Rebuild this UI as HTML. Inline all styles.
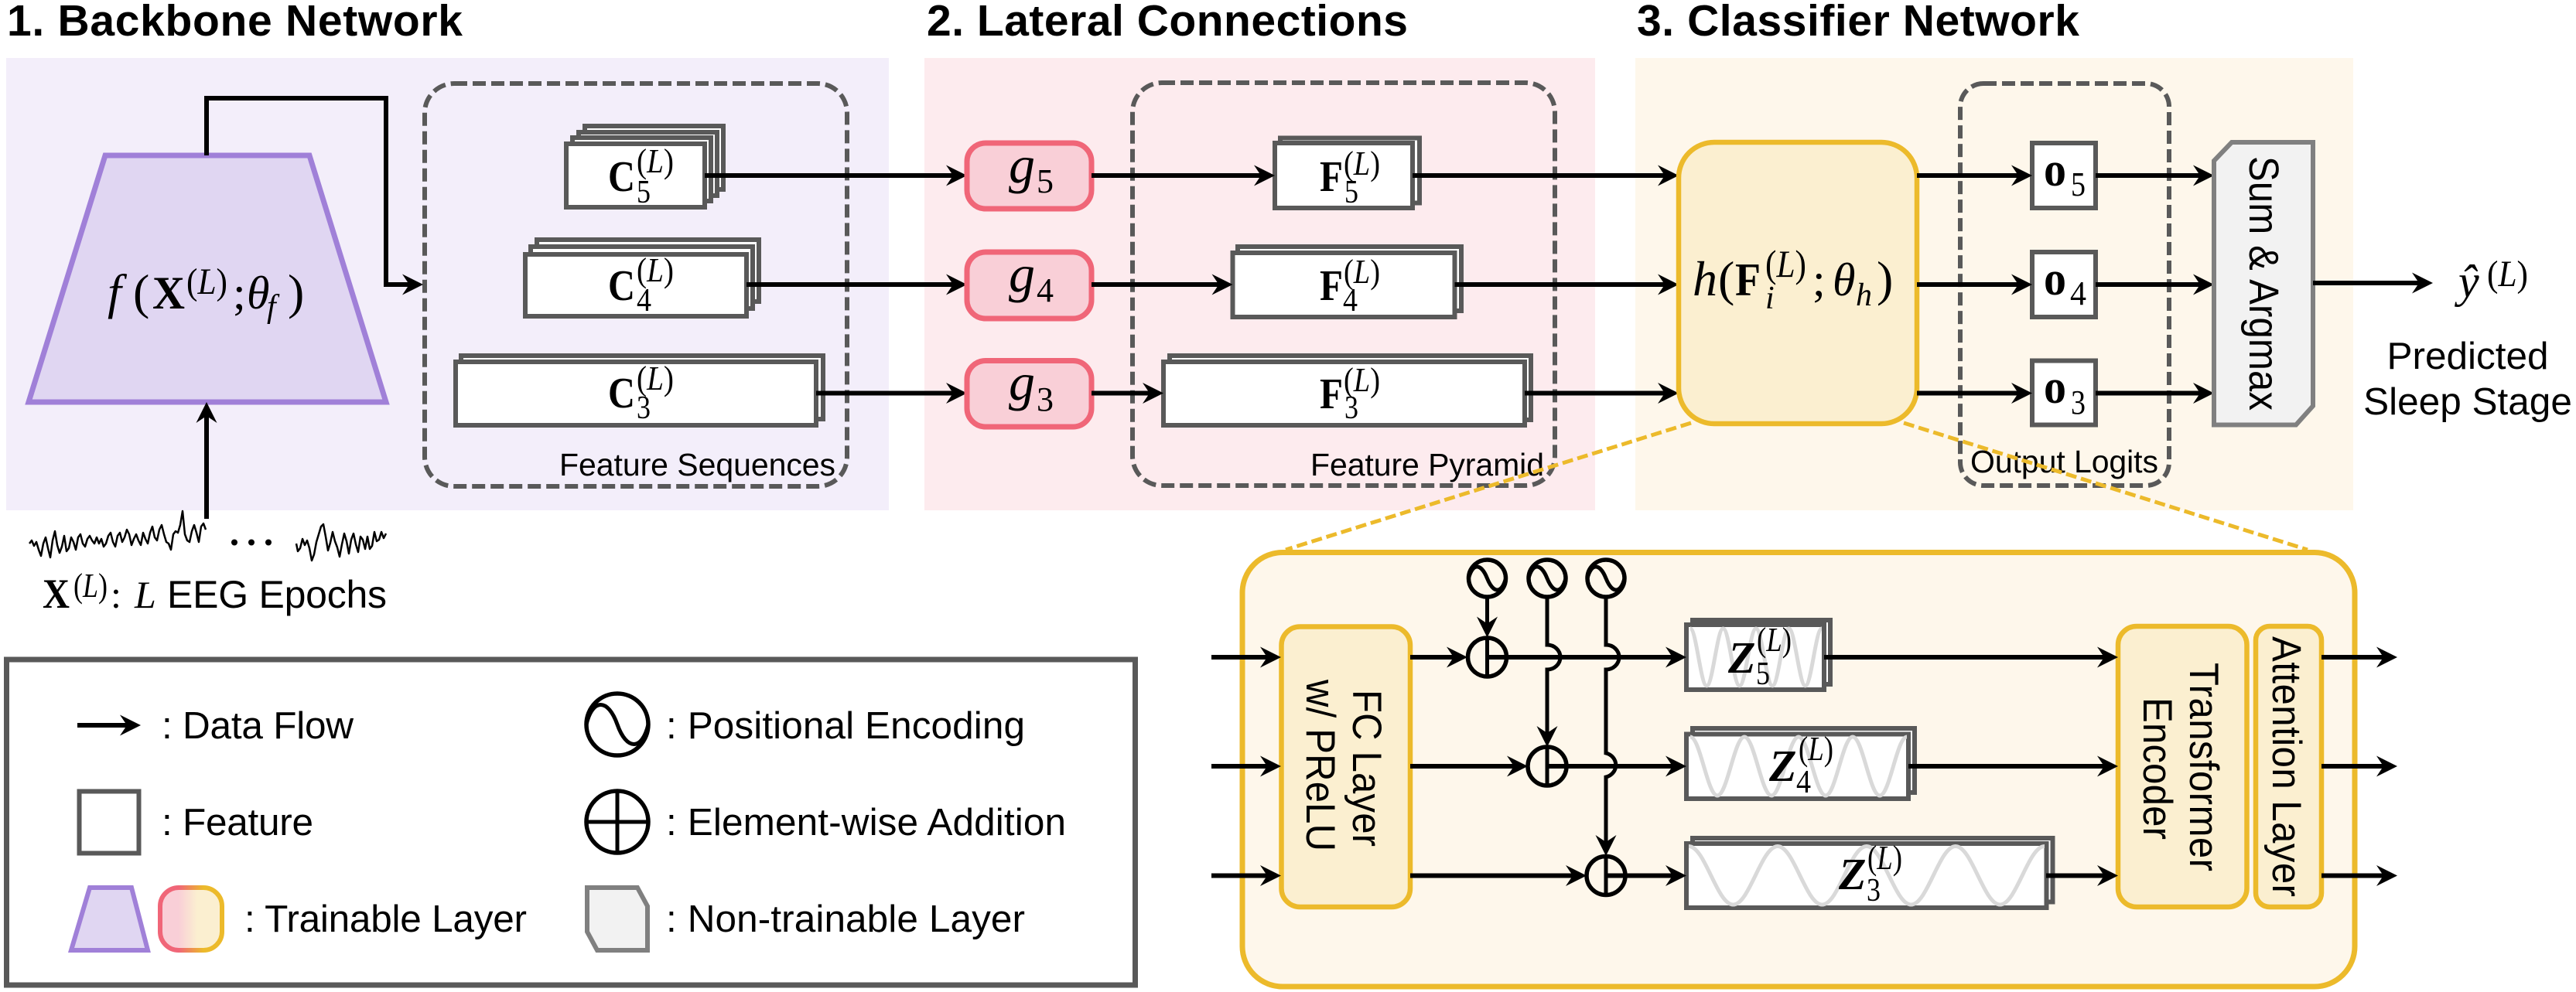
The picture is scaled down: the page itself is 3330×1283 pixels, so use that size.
<!DOCTYPE html>
<html>
<head>
<meta charset="utf-8">
<style>
html,body{margin:0;padding:0;background:#fff;}
svg{display:block;}
.s{font-family:"Liberation Sans",Arial,sans-serif;fill:#000;}
.m{font-family:"Liberation Serif","DejaVu Serif",serif;fill:#000;}
.b{font-weight:bold;}
.i{font-style:italic;}
.a{fill:none;stroke:#000;stroke-width:6;marker-end:url(#ah);}
.l{fill:none;stroke:#000;stroke-width:5;}
.fe{fill:#fff;stroke:#595959;stroke-width:6;}
.dash{fill:none;stroke:#595959;stroke-width:6;stroke-dasharray:17 7;}
.g{fill:#F9CFD7;stroke:#F06678;stroke-width:7;}
.y{fill:#FBEFD0;stroke:#ECBA2B;stroke-width:6.500;}
.wv{fill:none;stroke:#D9D9D9;stroke-width:5;}
.ring{fill:none;stroke:#000;stroke-width:5.500;}
</style>
</head>
<body>
<svg xmlns="http://www.w3.org/2000/svg" width="3330" height="1283" viewBox="0 0 3330 1283">
<defs>
<marker id="ah" markerUnits="userSpaceOnUse" markerWidth="30" markerHeight="30" refX="19" refY="15" orient="auto" viewBox="0 0 30 30">
<path d="M0 1.500 L27 15 L0 28.500 L9 15 Z" fill="#000"/>
</marker>
<linearGradient id="gs" x1="0" x2="1" y1="0" y2="0"><stop offset="0.3" stop-color="#F06678"/><stop offset="0.7" stop-color="#ECBA2B"/></linearGradient>
<linearGradient id="gf" x1="0" x2="1" y1="0" y2="0"><stop offset="0.3" stop-color="#F9CFD7"/><stop offset="0.6" stop-color="#FBEFD0"/></linearGradient>
</defs>

<!-- titles -->
<text class="s b" x="9" y="46" font-size="57" textLength="589">1. Backbone Network</text>
<text class="s b" x="1198" y="46" font-size="57" textLength="622">2. Lateral Connections</text>
<text class="s b" x="2116" y="46" font-size="57" textLength="572">3. Classifier Network</text>

<!-- panels -->
<rect x="8" y="75" width="1141" height="585" fill="#F3EEFA"/>
<rect x="1195" y="75" width="867" height="585" fill="#FDEBEE"/>
<rect x="2114" y="75" width="928" height="585" fill="#FEF7EB"/>

<!-- dashed containers -->
<rect class="dash" x="549" y="108" width="546" height="521" rx="38" ry="38"/>
<rect class="dash" x="1464" y="107" width="546" height="521" rx="38" ry="38"/>
<rect class="dash" x="2534" y="108" width="270" height="520" rx="30" ry="30"/>

<!-- backbone -->
<polygon points="136,201 400,201 499,520 37,520" fill="#E0D6F2" stroke="#A080D8" stroke-width="7"/>
<path class="a" d="M267 201 V127 H499 V368 H539"/>
<path class="a" d="M267 671 V528"/>
<text class="m i" x="139" y="399" font-size="64">f</text>
<text class="m" x="172" y="399" font-size="64">(</text>
<text class="m b" x="197" y="399" font-size="60" textLength="42" lengthAdjust="spacingAndGlyphs">X</text>
<text class="m" x="241" y="380" font-size="48" textLength="53" lengthAdjust="spacingAndGlyphs">(<tspan class="i">L</tspan>)</text>
<text class="m" x="301" y="399" font-size="60">;</text>
<text class="m i" x="319" y="399" font-size="60">θ</text>
<text class="m i" x="345" y="410" font-size="42">f</text>
<text class="m" x="372" y="399" font-size="64">)</text>

<!-- C stacks -->
<rect class="fe" x="756" y="163" width="179" height="82"/>
<rect class="fe" x="748" y="171" width="179" height="82"/>
<rect class="fe" x="740" y="178" width="179" height="82"/>
<rect class="fe" x="732" y="186" width="179" height="82"/>
<rect class="fe" x="694" y="310" width="287" height="80"/>
<rect class="fe" x="686" y="319" width="287" height="80"/>
<rect class="fe" x="679" y="329" width="286" height="80"/>
<rect class="fe" x="596" y="460" width="468" height="82"/>
<rect class="fe" x="589" y="468" width="466" height="82"/>

<g>
<text class="m b" x="786" y="247" font-size="56" textLength="35" lengthAdjust="spacingAndGlyphs">C</text>
<text class="m" x="823" y="223" font-size="44" textLength="48" lengthAdjust="spacingAndGlyphs">(<tspan class="i">L</tspan>)</text>
<text class="m" x="823" y="262" font-size="42" textLength="18" lengthAdjust="spacingAndGlyphs">5</text>
<text class="m b" x="786" y="388" font-size="56" textLength="35" lengthAdjust="spacingAndGlyphs">C</text>
<text class="m" x="823" y="364" font-size="44" textLength="48" lengthAdjust="spacingAndGlyphs">(<tspan class="i">L</tspan>)</text>
<text class="m" x="823" y="402" font-size="42" textLength="19" lengthAdjust="spacingAndGlyphs">4</text>
<text class="m b" x="786" y="527" font-size="56" textLength="35" lengthAdjust="spacingAndGlyphs">C</text>
<text class="m" x="823" y="504" font-size="44" textLength="48" lengthAdjust="spacingAndGlyphs">(<tspan class="i">L</tspan>)</text>
<text class="m" x="823" y="541" font-size="42" textLength="18" lengthAdjust="spacingAndGlyphs">3</text>
</g>

<text class="s" x="723" y="615" font-size="41" textLength="357">Feature Sequences</text>

<!-- arrows C -> g -->
<path class="a" d="M911 227 H1242"/>
<path class="a" d="M965 368 H1242"/>
<path class="a" d="M1055 508.500 H1242"/>

<!-- g -->
<rect class="g" x="1250" y="185" width="161" height="85" rx="24" ry="24"/>
<rect class="g" x="1250" y="326" width="161" height="86" rx="24" ry="24"/>
<rect class="g" x="1250" y="466.500" width="161" height="85.500" rx="24" ry="24"/>
<text class="m i" x="1304" y="236" font-size="68">g</text>
<text class="m" x="1340" y="249" font-size="44">5</text>
<text class="m i" x="1304" y="377" font-size="68">g</text>
<text class="m" x="1340" y="390" font-size="44">4</text>
<text class="m i" x="1304" y="517" font-size="68">g</text>
<text class="m" x="1340" y="531" font-size="44">3</text>

<!-- F stacks -->
<rect class="fe" x="1655" y="178.500" width="180" height="84"/>
<rect class="fe" x="1648" y="185" width="178" height="84"/>
<rect class="fe" x="1600" y="319" width="289" height="83"/>
<rect class="fe" x="1593.500" y="327" width="287" height="83"/>
<rect class="fe" x="1512" y="460" width="467" height="83"/>
<rect class="fe" x="1504" y="468" width="467" height="82"/>
<text class="m b" x="1706" y="247" font-size="56" textLength="30" lengthAdjust="spacingAndGlyphs">F</text>
<text class="m" x="1737" y="226" font-size="44" textLength="47" lengthAdjust="spacingAndGlyphs">(<tspan class="i">L</tspan>)</text>
<text class="m" x="1738" y="262" font-size="42" textLength="18" lengthAdjust="spacingAndGlyphs">5</text>
<text class="m b" x="1706" y="388" font-size="56" textLength="30" lengthAdjust="spacingAndGlyphs">F</text>
<text class="m" x="1737" y="366" font-size="44" textLength="47" lengthAdjust="spacingAndGlyphs">(<tspan class="i">L</tspan>)</text>
<text class="m" x="1736" y="402" font-size="42" textLength="19" lengthAdjust="spacingAndGlyphs">4</text>
<text class="m b" x="1706" y="528" font-size="56" textLength="30" lengthAdjust="spacingAndGlyphs">F</text>
<text class="m" x="1737" y="506" font-size="44" textLength="47" lengthAdjust="spacingAndGlyphs">(<tspan class="i">L</tspan>)</text>
<text class="m" x="1738" y="541" font-size="42" textLength="18" lengthAdjust="spacingAndGlyphs">3</text>
<text class="s" x="1694" y="615" font-size="41" textLength="302">Feature Pyramid</text>

<path class="a" d="M1411 227 H1640"/>
<path class="a" d="M1411 368 H1585.500"/>
<path class="a" d="M1411 508.500 H1496"/>
<path class="a" d="M1826 227 H2162"/>
<path class="a" d="M1880.500 368 H2162"/>
<path class="a" d="M1971 508.500 H2162"/>

<!-- h -->
<rect class="y" x="2170" y="184" width="308" height="364" rx="46" ry="46"/>
<text class="m i" x="2188" y="382" font-size="64">h</text>
<text class="m" x="2221" y="382" font-size="64">(</text>
<text class="m b" x="2243" y="382" font-size="60" textLength="33" lengthAdjust="spacingAndGlyphs">F</text>
<text class="m" x="2282" y="358" font-size="50" textLength="53" lengthAdjust="spacingAndGlyphs">(<tspan class="i">L</tspan>)</text>
<text class="m i" x="2282" y="399" font-size="42">i</text>
<text class="m" x="2343" y="382" font-size="60">;</text>
<text class="m i" x="2369" y="382" font-size="60">θ</text>
<text class="m i" x="2399" y="395" font-size="42">h</text>
<text class="m" x="2426" y="382" font-size="64">)</text>

<!-- o -->
<rect class="fe" x="2627" y="185" width="82" height="84"/>
<rect class="fe" x="2627" y="326" width="82" height="84"/>
<rect class="fe" x="2627" y="466.500" width="82" height="83"/>
<text class="m b" x="2642" y="240" font-size="62" textLength="29" lengthAdjust="spacingAndGlyphs">o</text>
<text class="m" x="2677" y="253" font-size="44" textLength="19" lengthAdjust="spacingAndGlyphs">5</text>
<text class="m b" x="2642" y="381" font-size="62" textLength="29" lengthAdjust="spacingAndGlyphs">o</text>
<text class="m" x="2676" y="394" font-size="44" textLength="21" lengthAdjust="spacingAndGlyphs">4</text>
<text class="m b" x="2642" y="521" font-size="62" textLength="29" lengthAdjust="spacingAndGlyphs">o</text>
<text class="m" x="2677" y="535" font-size="44" textLength="19" lengthAdjust="spacingAndGlyphs">3</text>
<text class="s" x="2547" y="611" font-size="41" textLength="243">Output Logits</text>

<path class="a" d="M2478 227 H2619"/>
<path class="a" d="M2478 368 H2619"/>
<path class="a" d="M2478 508.500 H2619"/>
<path class="a" d="M2709 227 H2854"/>
<path class="a" d="M2709 368 H2854"/>
<path class="a" d="M2709 508.500 H2854"/>

<!-- sum & argmax -->
<polygon points="2885,184 2990,184 2990,525 2968,549.500 2862,549.500 2862,208" fill="#F2F2F2" stroke="#808080" stroke-width="6"/>
<text class="s" transform="translate(2908,366.500) rotate(90) scale(1,1.1)" text-anchor="middle" font-size="49" textLength="329">Sum &amp; Argmax</text>
<path class="a" d="M2990 366 H3137"/>
<text class="m i" x="3178" y="384" font-size="60">ŷ</text>
<text class="m" x="3215" y="370" font-size="48" textLength="53" lengthAdjust="spacingAndGlyphs">(<tspan class="i">L</tspan>)</text>
<text class="s" x="3190" y="477" text-anchor="middle" font-size="49.500">Predicted</text>
<text class="s" x="3190" y="536" text-anchor="middle" font-size="49.500">Sleep Stage</text>

<!-- zoom lines -->
<path d="M2186 547 L1662 711" fill="none" stroke="#ECBA2B" stroke-width="5" stroke-dasharray="14 6"/>
<path d="M2461 547 L2983 711" fill="none" stroke="#ECBA2B" stroke-width="5" stroke-dasharray="14 6"/>

<!-- eeg -->
<path fill="none" stroke="#000" stroke-width="2.500" stroke-linejoin="round" d="M38 703 l3 -4 3 7 3 -5 3 10 3 8 3 -16 3 -8 3 14 3 12 3 -22 3 -12 3 18 3 10 3 -8 3 -14 3 20 3 -4 3 -14 3 6 3 10 3 -16 3 -4 3 12 3 4 3 -10 3 -4 3 6 3 4 3 -8 3 8 3 -6 3 10 3 -4 3 -10 3 -4 3 12 3 6 3 -14 3 -4 3 12 3 -6 3 -10 3 6 3 14 3 -8 3 -6 3 8 3 6 3 -16 3 8 3 6 3 -14 3 -8 3 14 3 4 3 -14 3 -6 3 12 3 10 3 2 3 8 3 -20 3 -4 3 2 3 -10 3 -18 3 30 3 8 3 2 3 -14 3 -8 3 10 3 12 3 -20 3 -4 3 8"/>
<path fill="none" stroke="#000" stroke-width="2.500" stroke-linejoin="round" d="M383 703 l2 10 3 -4 3 -12 3 8 3 -6 3 10 3 16 3 -8 3 -16 3 -10 3 -10 3 -3 3 16 3 18 3 -10 3 -14 3 12 3 8 3 12 3 -16 3 -14 3 10 3 16 3 -18 3 -8 3 14 3 10 3 -20 3 4 3 12 3 -16 3 16 3 -4 3 -18 3 12 3 -2 3 -10 3 8 3 -6"/>
<circle cx="303" cy="701.500" r="4"/><circle cx="325" cy="701.500" r="4"/><circle cx="347" cy="701.500" r="4"/>

<text class="m b" x="55" y="786" font-size="54" textLength="35" lengthAdjust="spacingAndGlyphs">X</text>
<text class="m" x="95" y="772" font-size="44" textLength="44" lengthAdjust="spacingAndGlyphs">(<tspan class="i">L</tspan>)</text>
<text class="m" x="143" y="786" font-size="50">:</text>
<text class="m i" x="174" y="786" font-size="50">L</text>
<text class="s" x="216" y="786" font-size="50" textLength="284">EEG Epochs</text>

<!-- inset -->
<rect x="1606" y="714.500" width="1438" height="561.500" rx="52" ry="52" fill="#FEF7EB" stroke="#ECBA2B" stroke-width="7"/>

<rect class="y" x="1656.500" y="810.500" width="166.500" height="362.500" rx="24" ry="24"/>
<rect class="y" x="2738" y="810" width="166.500" height="363" rx="24" ry="24"/>
<rect class="y" x="2916" y="810" width="85" height="363" rx="18" ry="18"/>
<text class="s" transform="translate(1749,993.500) rotate(90) scale(1,1.08)" text-anchor="middle" font-size="49" textLength="203">FC Layer</text>
<text class="s" transform="translate(1689,990) rotate(90) scale(1,1.08)" text-anchor="middle" font-size="49" textLength="222">w/ PReLU</text>
<text class="s" transform="translate(2831,992) rotate(90) scale(1,1.08)" text-anchor="middle" font-size="49" textLength="270">Transformer</text>
<text class="s" transform="translate(2771,994) rotate(90) scale(1,1.08)" text-anchor="middle" font-size="49" textLength="184">Encoder</text>
<text class="s" transform="translate(2938,991.500) rotate(90) scale(1,1.08)" text-anchor="middle" font-size="49" textLength="337">Attention Layer</text>

<!-- Z stacks -->
<rect class="fe" x="2188" y="802" width="178" height="83"/>
<rect class="fe" x="2180" y="808" width="178" height="84"/>
<rect class="fe" x="2188" y="942" width="287" height="83"/>
<rect class="fe" x="2180" y="949.500" width="287" height="83.500"/>
<rect class="fe" x="2188" y="1084" width="465.500" height="82.500"/>
<rect class="fe" x="2180" y="1091" width="465.500" height="83"/>

<path class="wv" d="M2185 813 c7.700 0 13.500 74 21.250 74 s13.500 -74 21.250 -74 s13.500 74 21.250 74 s13.500 -74 21.250 -74 s13.500 74 21.250 74 s13.500 -74 21.250 -74 s13.500 74 21.250 74 s13.500 -74 21.250 -74"/>
<path class="wv" d="M2185 953 c12.700 0 22.300 76 35 76 s22.300 -76 35 -76 s22.300 76 35 76 s22.300 -76 35 -76 s22.300 76 35 76 s22.300 -76 35 -76 s22.300 76 35 76 s22.300 -76 35 -76"/>
<path class="wv" d="M2183 1094.500 c21 0 36.500 75.500 57.500 75.500 s36.500 -75.500 57.500 -75.500 s36.500 75.500 57.500 75.500 s36.500 -75.500 57.500 -75.500 s36.500 75.500 57.500 75.500 s36.500 -75.500 57.500 -75.500 s36.500 75.500 57.500 75.500 s36.500 -75.500 57.500 -75.500"/>

<text class="m b i" x="2234" y="870" font-size="58">Z</text>
<text class="m" x="2271" y="842" font-size="44" textLength="45" lengthAdjust="spacingAndGlyphs">(<tspan class="i">L</tspan>)</text>
<text class="m" x="2270" y="885" font-size="42" textLength="18" lengthAdjust="spacingAndGlyphs">5</text>
<text class="m b i" x="2287" y="1010" font-size="58">Z</text>
<text class="m" x="2325" y="983" font-size="44" textLength="45" lengthAdjust="spacingAndGlyphs">(<tspan class="i">L</tspan>)</text>
<text class="m" x="2322" y="1025" font-size="42" textLength="19" lengthAdjust="spacingAndGlyphs">4</text>
<text class="m b i" x="2377" y="1150" font-size="58">Z</text>
<text class="m" x="2414" y="1124" font-size="44" textLength="45" lengthAdjust="spacingAndGlyphs">(<tspan class="i">L</tspan>)</text>
<text class="m" x="2413" y="1165" font-size="42" textLength="18" lengthAdjust="spacingAndGlyphs">3</text>

<!-- input arrows -->
<path class="a" d="M1566 850 H1648"/>
<path class="a" d="M1566 991 H1648"/>
<path class="a" d="M1566 1132.500 H1648"/>

<!-- add rows -->
<path class="a" d="M1823 850 H1889"/>
<path class="a" d="M1923 850 H2172"/>
<path class="a" d="M1823 991 H1967"/>
<path class="a" d="M2000 991 H2172"/>
<path class="a" d="M1823 1132.500 H2043"/>
<path class="a" d="M2076 1132.500 H2172"/>

<!-- Z -> transformer -->
<path class="a" d="M2358 850 H2730"/>
<path class="a" d="M2467 991 H2730"/>
<path class="a" d="M2645 1132.500 H2730"/>
<path class="a" d="M3001 850 H3091"/>
<path class="a" d="M3001 991 H3091"/>
<path class="a" d="M3001 1132.500 H3091"/>

<!-- circles -->
<g>
<circle class="ring" cx="1922.500" cy="748" r="24"/>
<path class="l" d="M1898.500 748 c5 -20 16 -20 24 0 s19 20 24 0" stroke-width="4"/>
<circle class="ring" cx="2000" cy="748" r="24"/>
<path class="l" d="M1976 748 c5 -20 16 -20 24 0 s19 20 24 0" stroke-width="4"/>
<circle class="ring" cx="2076" cy="748" r="24"/>
<path class="l" d="M2052 748 c5 -20 16 -20 24 0 s19 20 24 0" stroke-width="4"/>

<path class="a" d="M1922.500 772 V816.500" style="stroke-width:5"/>
<path class="a" d="M2000 772 V834 A17 16 0 0 1 2000 866 V958" style="stroke-width:5"/>
<path class="a" d="M2076 772 V834 A17 16 0 0 1 2076 866 V974 A17 16 0 0 1 2076 1005 V1099" style="stroke-width:5"/>

<circle class="ring" cx="1922.500" cy="850" r="25"/>
<path class="l" d="M1922.500 825 V875"/>
<circle class="ring" cx="2000" cy="991" r="25"/>
<path class="l" d="M2000 966 V1016"/>
<circle class="ring" cx="2076" cy="1132.500" r="25"/>
<path class="l" d="M2076 1107.500 V1157.500"/>
</g>

<!-- legend -->
<rect x="8.500" y="853" width="1459" height="421" fill="#fff" stroke="#595959" stroke-width="7"/>
<path class="a" d="M100 938 H174"/>
<text class="s" x="209" y="955" font-size="49.500" textLength="248">: Data Flow</text>

<circle class="ring" cx="798" cy="937" r="40"/>
<path class="l" d="M758 937 c8 -34 28 -34 40 0 s32 34 40 0"/>
<text class="s" x="861" y="955" font-size="49.500" textLength="464">: Positional Encoding</text>

<rect x="102.500" y="1023.500" width="77" height="80" fill="#fff" stroke="#595959" stroke-width="6"/>
<text class="s" x="209" y="1080" font-size="49.500" textLength="196">: Feature</text>

<circle class="ring" cx="798" cy="1063" r="40"/>
<path class="l" d="M798 1023 V1103 M758 1063 H838"/>
<text class="s" x="861" y="1080" font-size="49.500" textLength="517">: Element-wise Addition</text>

<polygon points="116,1148 170,1148 191,1229 92,1229" fill="#E0D6F2" stroke="#A080D8" stroke-width="6"/>
<rect x="207" y="1148" width="80" height="81" rx="24" ry="24" fill="url(#gf)" stroke="url(#gs)" stroke-width="6"/>
<text class="s" x="316" y="1205" font-size="49.500" textLength="365">: Trainable Layer</text>

<polygon points="759,1148 824,1148 837,1172 837,1229 772,1229 759,1205" fill="#F2F2F2" stroke="#808080" stroke-width="6"/>
<text class="s" x="861" y="1205" font-size="49.500" textLength="464">: Non-trainable Layer</text>
</svg>
</body>
</html>
